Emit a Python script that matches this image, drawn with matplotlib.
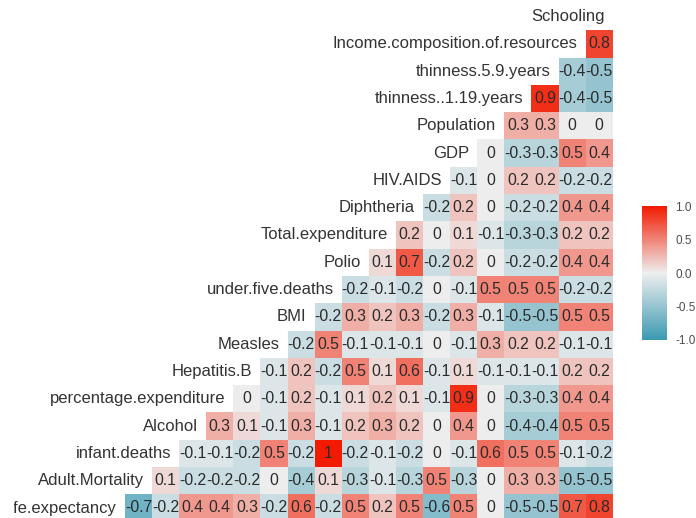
"""Triangular correlation heatmap (ggcorr style) of the WHO life expectancy data."""
import numpy as np
import matplotlib
matplotlib.use("Agg")
import matplotlib.pyplot as plt
from matplotlib.colors import LinearSegmentedColormap
from matplotlib.transforms import Bbox

plt.rcParams["font.family"] = ["Liberation Sans", "DejaVu Sans"]

variables = ["Life.expectancy", "Adult.Mortality", "infant.deaths", "Alcohol",
             "percentage.expenditure", "Hepatitis.B", "Measles", "BMI",
             "under.five.deaths", "Polio", "Total.expenditure", "Diphtheria",
             "HIV.AIDS", "GDP", "Population", "thinness..1.19.years",
             "thinness.5.9.years", "Income.composition.of.resources", "Schooling"]

# correlations of each variable with the ones listed after it (rounded to 1 decimal)
r_life = [-0.7, -0.2, 0.4, 0.4, 0.3, -0.2, 0.6, -0.2, 0.5, 0.2, 0.5, -0.6, 0.5, 0, -0.5, -0.5, 0.7, 0.8]
r_adult = [0.1, -0.2, -0.2, -0.2, 0, -0.4, 0.1, -0.3, -0.1, -0.3, 0.5, -0.3, 0, 0.3, 0.3, -0.5, -0.5]
r_infant = [-0.1, -0.1, -0.2, 0.5, -0.2, 1, -0.2, -0.1, -0.2, 0, -0.1, 0.6, 0.5, 0.5, -0.1, -0.2]
r_alcohol = [0.3, 0.1, -0.1, 0.3, -0.1, 0.2, 0.3, 0.2, 0, 0.4, 0, -0.4, -0.4, 0.5, 0.5]
r_pctexp = [0, -0.1, 0.2, -0.1, 0.1, 0.2, 0.1, -0.1, 0.9, 0, -0.3, -0.3, 0.4, 0.4]
r_hepb = [-0.1, 0.2, -0.2, 0.5, 0.1, 0.6, -0.1, 0.1, -0.1, -0.1, -0.1, 0.2, 0.2]
r_measles = [-0.2, 0.5, -0.1, -0.1, -0.1, 0, -0.1, 0.3, 0.2, 0.2, -0.1, -0.1]
r_bmi = [-0.2, 0.3, 0.2, 0.3, -0.2, 0.3, -0.1, -0.5, -0.5, 0.5, 0.5]
r_under5 = [-0.2, -0.1, -0.2, 0, -0.1, 0.5, 0.5, 0.5, -0.2, -0.2]
r_polio = [0.1, 0.7, -0.2, 0.2, 0, -0.2, -0.2, 0.4, 0.4]
r_totexp = [0.2, 0, 0.1, -0.1, -0.3, -0.3, 0.2, 0.2]
r_diph = [-0.2, 0.2, 0, -0.2, -0.2, 0.4, 0.4]
r_hiv = [-0.1, 0, 0.2, 0.2, -0.2, -0.2]
r_gdp = [0, -0.3, -0.3, 0.5, 0.4]
r_pop = [0.3, 0.3, 0, 0]
r_thin1019 = [0.9, -0.4, -0.5]
r_thin59 = [-0.4, -0.5]
r_income = [0.8]

rows = [r_life, r_adult, r_infant, r_alcohol, r_pctexp, r_hepb, r_measles, r_bmi,
        r_under5, r_polio, r_totexp, r_diph, r_hiv, r_gdp, r_pop, r_thin1019,
        r_thin59, r_income, []]

n = len(variables)
mat = np.full((n, n), np.nan)
for i, vals in enumerate(rows):
    for k, v in enumerate(vals):
        mat[i, i + 1 + k] = v

cmap = LinearSegmentedColormap.from_list("ggcorr", ["#3B9AB2", "#EEEEEE", "#F21A00"])

W, H = 696, 518
fig = plt.figure(figsize=(W / 100, H / 100), dpi=100)
ax = fig.add_axes([0, 0, 1, 1])

# pixel geometry: column c centre at 111.4 + 27.1c, row r centre at 10 + 27.3r from bottom
cw, rh = 27.1, 27.3
ax.set_xlim(-111.4 / cw, (W - 111.4) / cw)
ax.set_ylim(-10 / rh, (H - 10) / rh)
ax.axis("off")

edges = np.arange(n + 1) - 0.5
mesh = ax.pcolormesh(edges, edges, np.ma.masked_invalid(mat), cmap=cmap, vmin=-1, vmax=1,
                     edgecolors="none")

# the reference crops the left edge of the panel (the longest label loses its first letters)
clip = Bbox([[14, 0], [W, H]])
for i in range(n):
    for j in range(i + 1, n):
        v = round(mat[i, j], 1)
        txt = "0" if v == 0 else f"{v:g}"
        ax.text(j, i, txt, ha="center", va="center", fontsize=11.3, color="#2b2b2b")
    t = ax.text(i + 0.2, i, variables[i], ha="right", va="center", fontsize=12,
                color="#333333", clip_on=True)
    t.set_clip_box(clip)

cax = fig.add_axes([642 / W, (H - 340) / H, 25 / W, 134 / H])
cb = fig.colorbar(mesh, cax=cax, ticks=[-1, -0.5, 0, 0.5, 1])
cb.outline.set_visible(False)
cb.ax.set_yticklabels(["-1.0", "-0.5", "0.0", "0.5", "1.0"])
cb.ax.tick_params(length=0, labelsize=8.5, labelcolor="#4d4d4d", pad=6)

fig.savefig("out.png", dpi=100)
